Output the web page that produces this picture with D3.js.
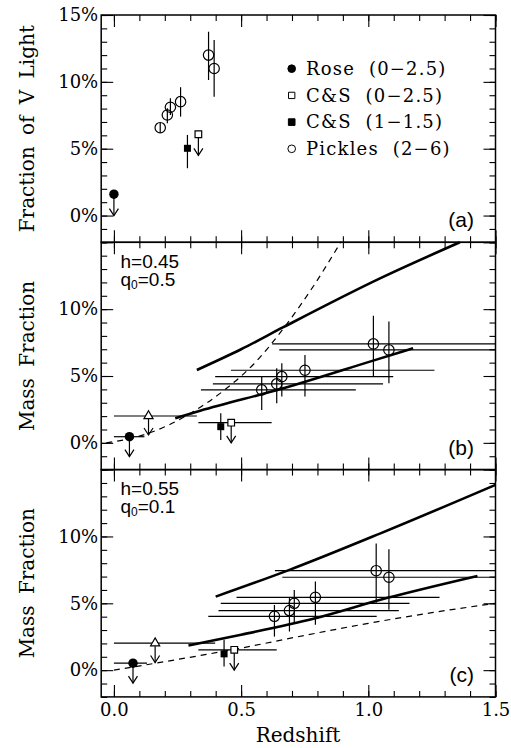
<!DOCTYPE html>
<html>
<head>
<meta charset="utf-8">
<script src="https://cdnjs.cloudflare.com/ajax/libs/d3/7.8.5/d3.min.js"></script>
<style>
  body { margin: 0; background: #fff; }
  svg { display: block; }
  .serif { font-family: "DejaVu Serif", serif; }
  .sans { font-family: "Liberation Sans", Arial, sans-serif; }
</style>
</head>
<body>
<div id="main"></div>
<script>
// axis ticks
const xTicks = [0, 0.5, 1.0, 1.5];
const yMajor = [0, 5, 10, 15];
const yLabelsA = [0, 5, 10, 15];
const yLabelsBC = [0, 5, 10];

// legend (panel a)
const legendLabels = ["Rose  (0\u22122.5)", "C&S  (0\u22122.5)", "C&S  (1\u22121.5)", "Pickles  (2\u22126)"];

// panel (a): fraction of V light
const roseA = [{z: 0.0, v: 1.6, lim: 0}];
const csWideA = [{z: 0.332, v: 6.08, lim: 4.5}];
const csNarrowA = [{z: 0.289, v: 5.03, lo: 3.54, hi: 6.03}];
const picklesA = [
  {z: 0.182, v: 6.57, lo: 6.2, hi: 6.95},
  {z: 0.21, v: 7.52, lo: 6.9, hi: 8.03},
  {z: 0.222, v: 8.1, lo: 7.52, hi: 8.77},
  {z: 0.262, v: 8.52, lo: 7.4, hi: 9.6},
  {z: 0.372, v: 12.0, lo: 10.14, hi: 13.75},
  {z: 0.394, v: 11.0, lo: 8.89, hi: 13.13}
];

// panel (b): h=0.45, q0=0.5
const roseB = [{z: 0.061, v: 0.46, lim: -1.03, z0: 0, z1: 0.12}];
const triB = [{z: 0.136, v: 2.01, lim: 0.59, z0: 0, z1: 0.326}];
const csNarrowB = [{z: 0.42, v: 1.21, lo: 0.22, hi: 2.21}];
const csWideB = [{z: 0.461, v: 1.51, lim: 0, z0: 0.332, z1: 0.62}];
const picklesB = [
  {z: 0.581, v: 3.96, lo: 2.46, hi: 4.95, z0: 0.342, z1: 0.951},
  {z: 0.64, v: 4.41, lo: 2.96, hi: 5.58, z0: 0.389, z1: 1.058},
  {z: 0.66, v: 4.95, lo: 3.46, hi: 5.95, z0: 0.398, z1: 1.098},
  {z: 0.751, v: 5.43, lo: 3.46, hi: 6.57, z0: 0.46, z1: 1.26},
  {z: 1.02, v: 7.4, lo: 4.95, hi: 9.5, z0: 0.622, z1: 1.5},
  {z: 1.081, v: 6.95, lo: 4.46, hi: 9.07, z0: 0.65, z1: 1.5}
];
const upperB = [[0.326, 5.45], [0.5, 7.0], [0.666, 8.65], [1.046, 12.3], [1.36, 15.0]];
const lowerB = [[0.241, 1.84], [0.339, 2.4], [0.666, 4.08], [1.019, 6.15], [1.176, 7.07]];
const dashB = [[-0.03, 0], [0.1, 0.5], [0.2, 1.2], [0.3, 2.2], [0.443, 4.08], [0.55, 5.9],
  [0.672, 8.7], [0.78, 11.6], [0.893, 15.05]];

// panel (c): h=0.55, q0=0.1
const roseC = [{z: 0.075, v: 0.52, lim: -0.97, z0: 0, z1: 0.13}];
const triC = [{z: 0.162, v: 2.02, lim: 0.57, z0: 0, z1: 0.398}];
const csNarrowC = [{z: 0.433, v: 1.22, lo: 0.27, hi: 2.27}];
const csWideC = [{z: 0.473, v: 1.52, lim: 0, z0: 0.332, z1: 0.64}];
const picklesC = [
  {z: 0.631, v: 4.03, lo: 2.51, hi: 4.88, z0: 0.371, z1: 1.033},
  {z: 0.69, v: 4.46, lo: 2.89, hi: 5.39, z0: 0.411, z1: 1.12},
  {z: 0.709, v: 5.0, lo: 3.52, hi: 6.0, z0: 0.42, z1: 1.162},
  {z: 0.792, v: 5.45, lo: 3.39, hi: 6.63, z0: 0.482, z1: 1.28},
  {z: 1.031, v: 7.44, lo: 5.05, hi: 9.48, z0: 0.633, z1: 1.5},
  {z: 1.081, v: 6.95, lo: 4.51, hi: 9.05, z0: 0.662, z1: 1.5}
];
const upperC = [[0.4, 5.5], [0.69, 7.5], [1.05, 10.25], [1.5, 13.86]];
const lowerC = [[0.293, 1.84], [0.5, 2.65], [0.784, 3.84], [1.072, 5.39], [1.429, 7.05]];
const dashC = [[0, 0], [0.25, 0.8], [0.5, 1.65], [0.75, 2.6], [1.0, 3.5], [1.25, 4.3], [1.5, 5.0]];

const panelH = 227.3;
const panels = [
  {top: 15, tag: "(a)", title: "Fraction of V Light", labels: yLabelsA,
   rose: roseA, csWide: csWideA, csNarrow: csNarrowA, pickles: picklesA},
  {top: 15 + panelH, tag: "(b)", title: "Mass Fraction", labels: yLabelsBC, h: "0.45", q: "0.5",
   rose: roseB, tri: triB, csWide: csWideB, csNarrow: csNarrowB, pickles: picklesB,
   upper: upperB, lower: lowerB, dash: dashB},
  {top: 15 + 2 * panelH, tag: "(c)", title: "Mass Fraction", labels: yLabelsBC, h: "0.55", q: "0.1",
   rose: roseC, tri: triC, csWide: csWideC, csNarrow: csNarrowC, pickles: picklesC,
   upper: upperC, lower: lowerC, dash: dashC}
];

const svg = d3.select("#main").append("svg")
  .attr("width", 511)
  .attr("height", 748);

const x = d3.scaleLinear().domain([-0.05, 1.5]).range([101.2, 495.5]);
const minorX = d3.range(0, 16).map(i => i / 10);
const minorY = d3.range(-2, 16);

const sym = (type, size) => d3.symbol().type(type).size(size)();

function styleAxis(sel) {
  sel.select(".domain").remove();
  sel.selectAll(".tick line").attr("stroke", "#000").attr("stroke-width", 1.1);
  sel.selectAll(".tick text")
    .attr("class", "serif")
    .attr("font-size", 18)
    .attr("fill", "#000");
  sel.attr("font-family", null).attr("font-size", null);
}

function arrow(g, px, y1, y2) {
  g.append("line").attr("x1", px).attr("x2", px).attr("y1", y1).attr("y2", y2)
    .attr("stroke", "#000").attr("stroke-width", 1.2);
  g.append("path")
    .attr("d", `M${px - 4.5},${y2 - 7}L${px},${y2}L${px + 4.5},${y2 - 7}`)
    .attr("fill", "none").attr("stroke", "#000").attr("stroke-width", 1.2);
}

panels.forEach((p, i) => {
  const bottom = p.top + panelH;
  const y = d3.scaleLinear().domain([-2, 15]).range([bottom, p.top]);
  const g = svg.append("g");

  // ticks, inward on all four sides
  g.append("g").attr("transform", `translate(0,${bottom})`)
    .call(d3.axisBottom(x).tickValues(minorX).tickSize(-6).tickFormat("").tickSizeOuter(0))
    .call(styleAxis);
  g.append("g").attr("transform", `translate(0,${p.top})`)
    .call(d3.axisTop(x).tickValues(minorX).tickSize(-6).tickFormat("").tickSizeOuter(0))
    .call(styleAxis);
  g.append("g").attr("transform", `translate(0,${p.top})`)
    .call(d3.axisTop(x).tickValues(xTicks).tickSize(-12).tickFormat("").tickSizeOuter(0))
    .call(styleAxis);
  g.append("g").attr("transform", `translate(0,${bottom})`)
    .call(d3.axisBottom(x).tickValues(xTicks).tickSize(-12).tickPadding(6)
      .tickFormat(i === 2 ? d3.format(".1f") : "").tickSizeOuter(0))
    .call(styleAxis);
  g.append("g").attr("transform", `translate(${x.range()[0]},0)`)
    .call(d3.axisLeft(y).tickValues(minorY).tickSize(-6).tickFormat("").tickSizeOuter(0))
    .call(styleAxis);
  g.append("g").attr("transform", `translate(${x.range()[0]},0)`)
    .call(d3.axisLeft(y).tickValues(yMajor).tickSize(-12).tickPadding(3)
      .tickFormat(d => p.labels.includes(d) ? d + "%" : "").tickSizeOuter(0))
    .call(styleAxis);
  g.append("g").attr("transform", `translate(${x.range()[1]},0)`)
    .call(d3.axisRight(y).tickValues(minorY).tickSize(-6).tickFormat("").tickSizeOuter(0))
    .call(styleAxis);
  g.append("g").attr("transform", `translate(${x.range()[1]},0)`)
    .call(d3.axisRight(y).tickValues(yMajor).tickSize(-12).tickFormat("").tickSizeOuter(0))
    .call(styleAxis);

  // frame
  g.append("rect")
    .attr("x", x.range()[0]).attr("y", p.top)
    .attr("width", x.range()[1] - x.range()[0]).attr("height", panelH)
    .attr("fill", "none").attr("stroke", "#000").attr("stroke-width", 1.5);

  // y title
  g.append("text")
    .attr("class", "serif")
    .attr("font-size", 20)
    .attr("word-spacing", 5)
    .attr("text-anchor", "middle")
    .attr("transform", `translate(34,${p.top + panelH / 2}) rotate(-90)`)
    .text(p.title);

  // panel tag
  g.append("text")
    .attr("class", "sans")
    .attr("font-size", 21)
    .attr("text-anchor", "end")
    .attr("x", 474).attr("y", bottom - 15)
    .text(p.tag);

  // cosmology note (one text block, two lines)
  if (p.h) {
    const note = g.append("text").attr("class", "sans").attr("font-size", 19)
      .attr("x", 120.5).attr("y", p.top + 25.2);
    note.append("tspan").text("h=" + p.h);
    note.append("tspan").attr("x", 120.5).attr("dy", 18.1).text("q");
    note.append("tspan").attr("font-size", 12).attr("dy", 3).text("0");
    note.append("tspan").attr("dy", -3).text("=" + p.q);
  }

  const line = d3.line().x(d => x(d[0])).y(d => y(d[1])).curve(d3.curveMonotoneX);
  if (p.dash) {
    g.append("path").datum(p.dash).attr("d", line)
      .attr("fill", "none").attr("stroke", "#000").attr("stroke-width", 1.2)
      .attr("stroke-dasharray", "6,5");
  }
  [p.upper, p.lower].forEach(c => {
    if (!c) return;
    g.append("path").datum(c).attr("d", line)
      .attr("fill", "none").attr("stroke", "#000").attr("stroke-width", 2.6);
  });

  // horizontal redshift bars
  const hbars = [].concat(p.rose || [], p.tri || [], p.csWide || [], p.pickles || [])
    .filter(d => d.z0 != null);
  g.selectAll(".hbar").data(hbars).join("line")
    .attr("x1", d => x(d.z0)).attr("x2", d => x(Math.min(d.z1, 1.5)))
    .attr("y1", d => y(d.v)).attr("y2", d => y(d.v))
    .attr("stroke", "#000").attr("stroke-width", 1.2);

  // vertical error bars
  g.selectAll(".vbar").data([].concat(p.csNarrow, p.pickles)).join("line")
    .attr("x1", d => x(d.z)).attr("x2", d => x(d.z))
    .attr("y1", d => y(d.lo)).attr("y2", d => y(d.hi))
    .attr("stroke", "#000").attr("stroke-width", 1.2);

  // upper limits
  p.rose.forEach(d => arrow(g, x(d.z), y(d.v), y(d.lim)));
  p.csWide.forEach(d => arrow(g, x(d.z), y(d.v) + 3, y(d.lim)));
  (p.tri || []).forEach(d => arrow(g, x(d.z), y(d.v) + 3, y(d.lim)));

  // markers
  g.selectAll(".rose").data(p.rose).join("path")
    .attr("d", sym(d3.symbolCircle, 70))
    .attr("transform", d => `translate(${x(d.z)},${y(d.v)})`)
    .attr("fill", "#000");
  g.selectAll(".csn").data(p.csNarrow).join("path")
    .attr("d", sym(d3.symbolSquare, 49))
    .attr("transform", d => `translate(${x(d.z)},${y(d.v)})`)
    .attr("fill", "#000");
  g.selectAll(".csw").data(p.csWide).join("path")
    .attr("d", sym(d3.symbolSquare, 44))
    .attr("transform", d => `translate(${x(d.z)},${y(d.v)})`)
    .attr("fill", "#fff").attr("stroke", "#000").attr("stroke-width", 1.2);
  g.selectAll(".tri").data(p.tri || []).join("path")
    .attr("d", sym(d3.symbolTriangle, 36))
    .attr("transform", d => `translate(${x(d.z)},${y(d.v)})`)
    .attr("fill", "#fff").attr("stroke", "#000").attr("stroke-width", 1.2);
  g.selectAll(".pk").data(p.pickles).join("circle")
    .attr("cx", d => x(d.z)).attr("cy", d => y(d.v)).attr("r", 5.2)
    .attr("fill", "none").attr("stroke", "#000").attr("stroke-width", 1.2);

  // legend in panel (a)
  if (i === 0) {
    const lg = g.append("g");
    const rowY = d => 75 + d * 26.7;
    const shapes = [
      {type: d3.symbolCircle, size: 46, fill: "#000"},
      {type: d3.symbolSquare, size: 40, fill: "#fff"},
      {type: d3.symbolSquare, size: 44, fill: "#000"},
      {type: d3.symbolCircle, size: 46, fill: "#fff"}
    ];
    legendLabels.forEach((t, k) => {
      lg.append("path")
        .attr("d", sym(shapes[k].type, shapes[k].size))
        .attr("transform", `translate(291.7,${rowY(k) - 6.3})`)
        .attr("fill", shapes[k].fill).attr("stroke", "#000").attr("stroke-width", 1);
      lg.append("text")
        .attr("class", "serif")
        .attr("font-size", 18)
        .attr("letter-spacing", 1.2)
        .style("white-space", "pre")
        .attr("x", 306).attr("y", rowY(k))
        .text(t);
    });
  }
});

// x title
svg.append("text")
  .attr("class", "serif")
  .attr("font-size", 20)
  .attr("text-anchor", "middle")
  .attr("x", 298).attr("y", 742)
  .text("Redshift");
</script>
</body>
</html>
